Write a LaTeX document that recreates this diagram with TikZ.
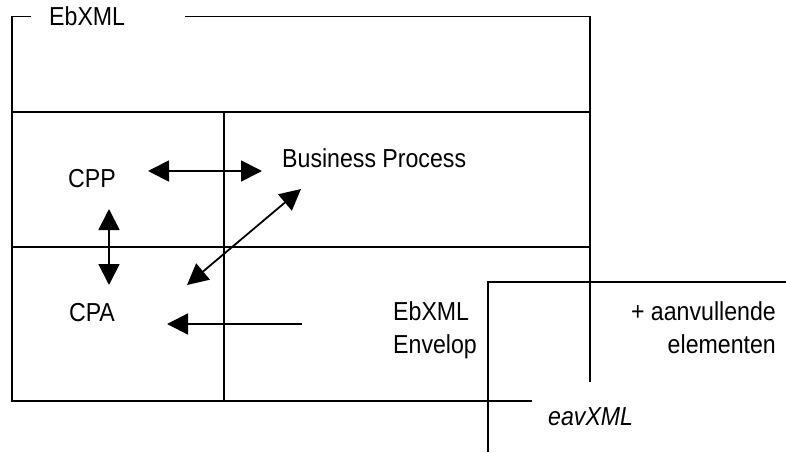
\documentclass[tikz,border=0pt]{standalone}
\usepackage{fontspec}
\setmainfont[FakeStretch=0.89]{Liberation Sans}
\usetikzlibrary{arrows.meta}
\begin{document}
\begin{tikzpicture}[x=1pt,y=-1pt,
  frame/.style={line width=1.8pt},
  lbl/.style={inner sep=0pt,font=\fontsize{26}{30}\selectfont},
  dblarrow/.style={line width=1.8pt,{Triangle[length=21pt,width=21pt]}-{Triangle[length=21pt,width=21pt]}},
  sglarrow/.style={line width=1.8pt,-{Triangle[length=21pt,width=21pt]}}]
\useasboundingbox (0,0) rectangle (786,452);
% outer frame
\draw[frame] (31,16.5) -- (12,16.5) -- (12,401) -- (532,401);
\draw[frame] (185,16.5) -- (590,16.5) -- (590,382);
\draw[frame] (12,112) -- (590,112);
\draw[frame] (12,247) -- (590,247);
\draw[frame] (224,112) -- (224,401);
% second frame
\draw[frame] (488,452) -- (488,282) -- (786,282);
% labels
\node[lbl,anchor=base west] (ebxml) at (49,26) {EbXML};
\node[lbl,anchor=base] (cpp) at (92,187) {CPP};
\node[lbl,anchor=base] (cpa) at (92,321) {CPA};
\node[lbl,anchor=base west] (bp) at (282,167) {Business Process};
\node[lbl,anchor=base west] (env1) at (393,320) {EbXML};
\node[lbl,anchor=base west] (env2) at (393,353) {Envelop};
\node[lbl,anchor=base east] (aan1) at (776,320) {+ aanvullende};
\node[lbl,anchor=base east] (aan2) at (776,353) {elementen};
\node[lbl,anchor=base west,font=\fontsize{26}{30}\selectfont\itshape] (eav) at (548,425) {eavXML};
% arrow ends
\coordinate (a1) at (148,171);
\coordinate (a2) at (262,171);
\coordinate (b1) at (109,209);
\coordinate (b2) at (109,285);
\coordinate (c1) at (301,189);
\coordinate (c2) at (187,285);
\coordinate (d1) at (302,324);
\coordinate (d2) at (167,324);
\draw[dblarrow] (a1) -- (a2);
\draw[dblarrow] (b1) -- (b2);
\draw[dblarrow] (c1) -- (c2);
\draw[sglarrow] (d1) -- (d2);
\end{tikzpicture}
\end{document}
